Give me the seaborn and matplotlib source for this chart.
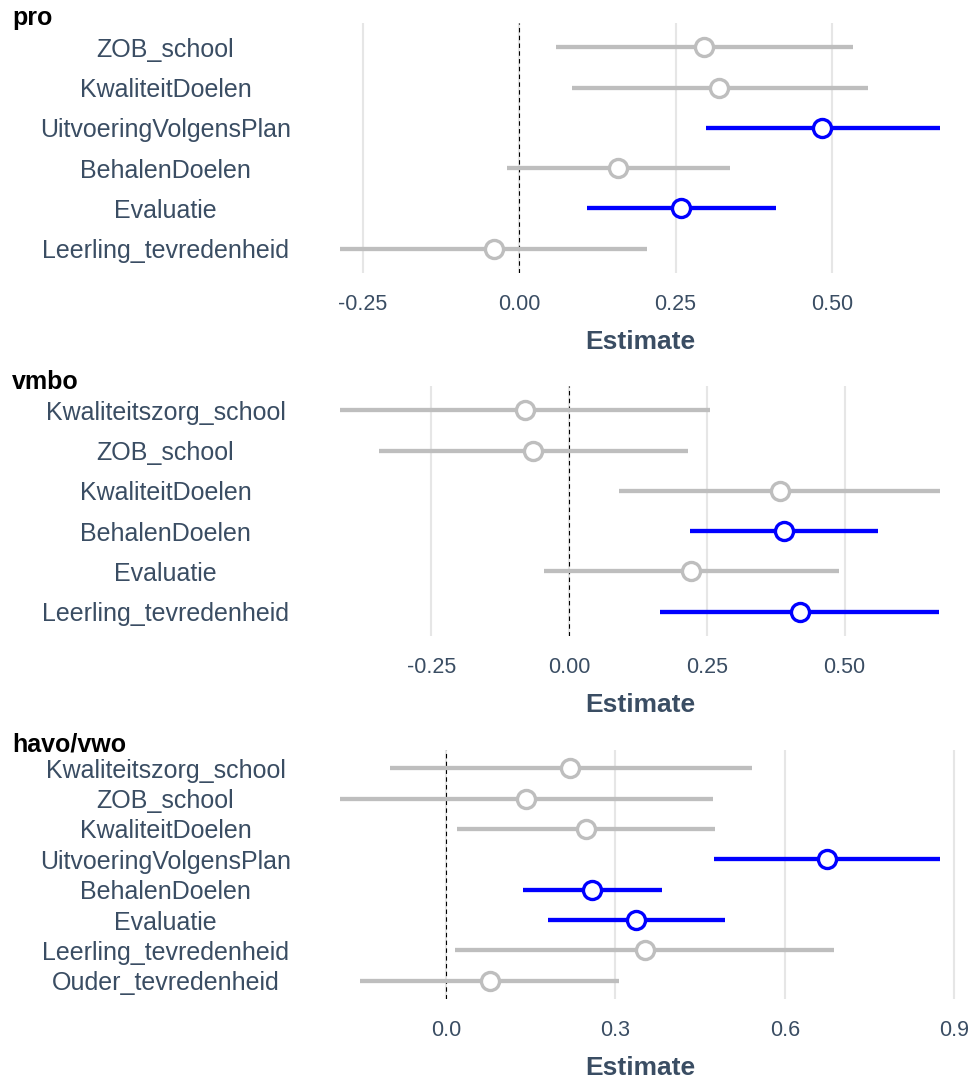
import matplotlib
matplotlib.use('Agg')
import matplotlib.pyplot as plt
import seaborn as sns
import pandas as pd
from matplotlib.ticker import FormatStrFormatter

sns.set_style('white')
plt.rcParams['font.family'] = ['Liberation Sans', 'DejaVu Sans']
plt.rcParams['axes.unicode_minus'] = False

TEXT = '#3A4D63'
PALETTE = {'sig': '#0000FF', 'ns': '#BEBEBE'}

# pro
pro_terms = ['ZOB_school', 'KwaliteitDoelen', 'UitvoeringVolgensPlan',
             'BehalenDoelen', 'Evaluatie', 'Leerling_tevredenheid']
pro_est = [0.295, 0.320, 0.485, 0.158, 0.259, -0.041]
pro_lo = [0.058, 0.084, 0.298, -0.020, 0.108, -0.287]
pro_hi = [0.534, 0.558, 0.673, 0.337, 0.411, 0.205]
pro_sig = ['ns', 'ns', 'sig', 'ns', 'sig', 'ns']

# vmbo
vmbo_terms = ['Kwaliteitszorg_school', 'ZOB_school', 'KwaliteitDoelen',
              'BehalenDoelen', 'Evaluatie', 'Leerling_tevredenheid']
vmbo_est = [-0.081, -0.065, 0.382, 0.389, 0.221, 0.418]
vmbo_lo = [-0.416, -0.346, 0.091, 0.219, -0.046, 0.165]
vmbo_hi = [0.256, 0.215, 0.673, 0.560, 0.489, 0.672]
vmbo_sig = ['ns', 'ns', 'ns', 'sig', 'ns', 'sig']

# havo/vwo
havo_terms = ['Kwaliteitszorg_school', 'ZOB_school', 'KwaliteitDoelen',
              'UitvoeringVolgensPlan', 'BehalenDoelen', 'Evaluatie',
              'Leerling_tevredenheid', 'Ouder_tevredenheid']
havo_est = [0.220, 0.142, 0.248, 0.674, 0.259, 0.336, 0.352, 0.077]
havo_lo = [-0.099, -0.188, 0.020, 0.475, 0.137, 0.180, 0.016, -0.153]
havo_hi = [0.542, 0.473, 0.476, 0.875, 0.382, 0.494, 0.688, 0.307]
havo_sig = ['ns', 'ns', 'ns', 'sig', 'sig', 'sig', 'ns', 'ns']

panels = [
    ('pro', pro_terms, pro_est, pro_lo, pro_hi, pro_sig, [-0.25, 0, 0.25, 0.5], '%.2f'),
    ('vmbo', vmbo_terms, vmbo_est, vmbo_lo, vmbo_hi, vmbo_sig, [-0.25, 0, 0.25, 0.5], '%.2f'),
    ('havo/vwo', havo_terms, havo_est, havo_lo, havo_hi, havo_sig, [0, 0.3, 0.6, 0.9], '%.1f'),
]

W, H = 978, 1082
fig = plt.figure(figsize=(W / 100, H / 100), dpi=100)

# axes boxes in pixels: (top, bottom)
boxes = [(23, 273), (386, 636), (750, 999)]
title_y = [18, 382, 745]
left, right = 310, 970

for (name, terms, est, lo, hi, sig, ticks, fmt), (top, bot), ty in zip(panels, boxes, title_y):
    ax = fig.add_axes([left / W, 1 - bot / H, (right - left) / W, (bot - top) / H])
    df = pd.DataFrame({'term': terms, 'est': est, 'lo': lo, 'hi': hi, 'sig': sig})
    n = len(df)

    ax.grid(axis='x', color='#E6E6E6', linewidth=1.5, zorder=0)
    ax.axvline(0, color='black', linewidth=0.8, linestyle=(0, (4, 3)), zorder=1)
    ax.hlines(y=range(n), xmin=df['lo'], xmax=df['hi'],
              colors=[PALETTE[s] for s in df['sig']], linewidth=3.1, zorder=2)
    sns.pointplot(data=df, x='est', y='term', hue='sig', palette=PALETTE,
                  order=terms, linestyle='none', errorbar=None, markers='o',
                  markersize=13, markeredgewidth=2.4, markerfacecolor='white',
                  legend=False, ax=ax, zorder=3)

    span = max(hi) - min(lo)
    ax.set_xlim(min(lo) - 0.05 * span, max(hi) + 0.05 * span)
    ax.set_ylim(n - 0.4, -0.6)
    ax.set_xticks(ticks)
    ax.xaxis.set_major_formatter(FormatStrFormatter(fmt))
    ax.set_ylabel('')
    ax.set_xlabel('Estimate', fontsize=19, fontweight='bold', color=TEXT, labelpad=11)
    ax.tick_params(axis='x', length=0, pad=15, labelsize=15.5, labelcolor=TEXT)
    ax.tick_params(axis='y', length=0, pad=104, labelsize=18, labelcolor=TEXT)
    for t in ax.get_yticklabels():
        t.set_ha('center')
    for s in ax.spines.values():
        s.set_visible(False)

    fig.text(12 / W, 1 - ty / H, name, fontsize=18, fontweight='bold',
             color='black', ha='left', va='center')

fig.savefig('out.png', dpi=100)
